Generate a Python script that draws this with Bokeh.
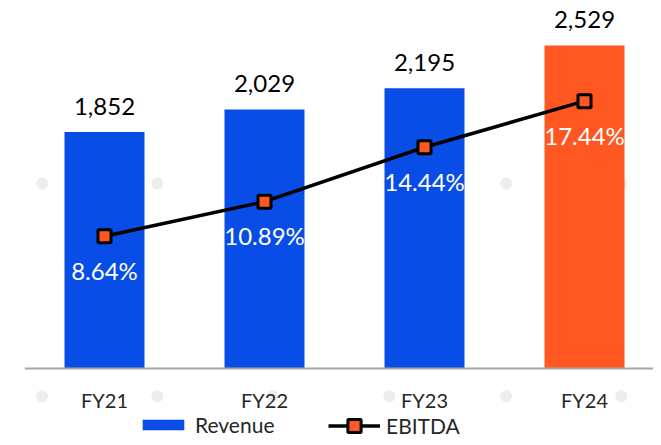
from bokeh.plotting import figure
from bokeh.models import Range1d, ColumnDataSource, FixedTicker, Legend, LegendItem
from bokeh.core.properties import value
from bokeh.embed import file_html
from bokeh.resources import INLINE

# ---- data ----
categories = ["FY21", "FY22", "FY23", "FY24"]
revenue = [1852, 2029, 2195, 2529]
ebitda_pct = [8.64, 10.89, 14.44, 17.44]
bar_colors = ["#084DE5", "#084DE5", "#084DE5", "#FF5722"]

# faint decorative dots seen in the reference (x in category units, y in revenue units)
dot_x = [-0.39, 0.33, 1.05, 1.78, 2.51, 3.23, -0.39, 0.33, 1.05, 1.78, 2.51, 3.23]
dot_y = [1450, 1450, 1450, 1450, 1450, 1450, -214, -214, -214, -214, -214, -214]

FONT = "Lato"

xs = list(range(len(categories)))
src = ColumnDataSource(dict(
    x=xs, rev=revenue, pct=ebitda_pct, color=bar_colors,
    rev_label=[f"{v:,}" for v in revenue],
    pct_label=[f"{v:.2f}%" for v in ebitda_pct],
))

p = figure(width=653, height=437, output_backend="svg", toolbar_location=None,
           x_range=Range1d(-0.5, 3.43125), y_range=Range1d(-537.6, 2819),
           y_axis_location=None,
           min_border_left=24, min_border_right=0, min_border_top=8, min_border_bottom=0)
p.extra_y_ranges = {"pct": Range1d(-4.477, 23.48)}
p.outline_line_color = None
p.xgrid.visible = False
p.ygrid.visible = False
p.background_fill_color = "white"
p.border_fill_color = "white"

# decorative dots (behind everything)
p.scatter(dot_x, dot_y, marker="circle", size=12, fill_color="#EDEDED", line_color=None)

bars = p.vbar(x="x", top="rev", width=0.5, fill_color="color", line_color=None, source=src)

p.text(x="x", y="rev", text="rev_label", source=src, y_offset=-26,
       text_align="center", text_baseline="middle",
       text_font=value(FONT), text_font_size="24px", text_color="#000000")

line = p.line(x="x", y="pct", y_range_name="pct", source=src, line_color="black", line_width=3.5)
pts = p.scatter(x="x", y="pct", y_range_name="pct", source=src, marker="square", size=13,
                fill_color="#FF5722", line_color="black", line_width=3)

p.text(x="x", y="pct", text="pct_label", y_range_name="pct", source=src, y_offset=34,
       text_align="center", text_baseline="middle",
       text_font=value(FONT), text_font_size="24px", text_color="white")

# x axis at revenue = 0, inside the frame
ax = p.xaxis[0]
ax.fixed_location = 0
ax.ticker = FixedTicker(ticks=xs)
ax.major_label_overrides = {i: c for i, c in zip(xs, categories)}
ax.axis_line_color = "#A6A6A6"
ax.axis_line_width = 2
ax.major_tick_line_color = None
ax.minor_tick_line_color = None
ax.major_label_standoff = 13
ax.major_label_text_font = FONT
ax.major_label_text_font_size = "20px"
ax.major_label_text_color = "#262626"

leg1 = Legend(items=[LegendItem(label="Revenue", renderers=[bars], index=0)],
              location=(113, 0), orientation="horizontal",
              glyph_width=52, glyph_height=13, label_standoff=6,
              padding=0, margin=0, border_line_color=None, background_fill_alpha=0,
              label_text_font=FONT, label_text_font_size="21px", label_text_color="#262626")
leg2 = Legend(items=[LegendItem(label="EBITDA", renderers=[line, pts], index=0)],
              location=(304, -5), orientation="horizontal",
              glyph_width=52, glyph_height=33, label_standoff=6,
              padding=0, margin=0, border_line_color=None, background_fill_alpha=0,
              label_text_font=FONT, label_text_font_size="21px", label_text_color="#262626")
p.add_layout(leg1)
p.add_layout(leg2)

open("out.html", "w").write(file_html(p, INLINE))
